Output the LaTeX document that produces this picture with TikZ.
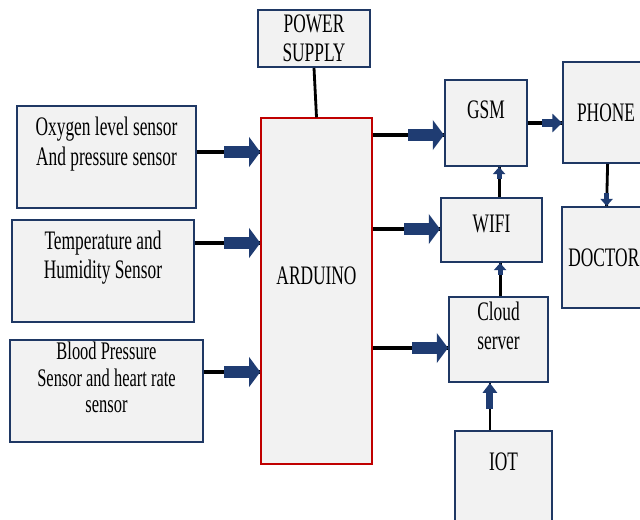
\documentclass[tikz,border=0pt]{standalone}
\usepackage{fontspec}
\setmainfont[FakeStretch=0.65]{Liberation Serif}
\usetikzlibrary{arrows.meta, positioning, calc}

\definecolor{boxblue}{RGB}{31,56,100}
\definecolor{boxgray}{RGB}{242,242,242}
\definecolor{ardred}{RGB}{192,0,0}
\definecolor{arrowblue}{RGB}{31,60,114}

\begin{document}
\begin{tikzpicture}[
    box/.style={draw=boxblue, line width=1.4pt, fill=boxgray},
    txt/.style={font=\fontsize{19}{21}\selectfont, align=center, inner sep=0pt},
    wire/.style={line width=2.7pt},
    thinwire/.style={line width=2pt},
    bigarrow/.style={arrowblue, line width=9pt, -{Triangle[width=21pt, length=8pt]}},
    midarrow/.style={arrowblue, line width=5pt, -{Triangle[width=10pt, length=7pt]}},
    smallarrow/.style={arrowblue, line width=3.5pt, -{Triangle[width=8.5pt, length=5pt]}},
]
\useasboundingbox (0,0) rectangle (16,12.975);
\clip (0,0) rectangle (16,12.975);

% ===================== SENSORS =====================
\node[box, minimum width=4.475cm, minimum height=2.55cm] (oxy) at (2.6625, 9.05) {};
\node[txt] at ($(oxy.center)+(0,0.325)$) {Oxygen level sensor\\And pressure sensor};

\node[box, minimum width=4.55cm, minimum height=2.55cm] (temp) at (2.575, 6.2) {};
\node[txt] at ($(temp.center)+(0,0.34)$) {Temperature and\\Humidity Sensor};

\node[box, minimum width=4.825cm, minimum height=2.55cm] (bp) at (2.6625, 3.2) {};
\node[txt, font=\fontsize{18}{19}\selectfont] at ($(bp.center)+(0,0.34)$)
    {Blood Pressure\\Sensor and heart rate\\sensor};

% ===================== ARDUINO + POWER =====================
\node[box, minimum width=2.8cm, minimum height=1.425cm] (power) at (7.85, 12.0125) {};
\node[txt] at (power.center) {POWER\\SUPPLY};

\node[box, draw=ardred, line width=1pt, minimum width=2.775cm, minimum height=8.65cm]
    (ardu) at (7.9125, 5.7) {};
\node[txt] at ($(ardu.center)+(0,0.375)$) {ARDUINO};

\draw[thinwire] (power.south) -- (ardu.north);

% ===================== COMMUNICATION =====================
\node[box, minimum width=2.05cm, minimum height=2.15cm] (gsm) at (12.15, 9.9) {};
\node[txt] at ($(gsm.center)+(0,0.325)$) {GSM};

\node[box, minimum width=2.525cm, minimum height=1.6cm] (wifi) at (12.2875, 7.225) {};
\node[txt] at ($(wifi.center)+(0,0.15)$) {WIFI};

\node[box, minimum width=2.475cm, minimum height=2.125cm] (cloud) at (12.4625, 4.4875) {};
\node[txt] at ($(cloud.center)+(0,0.34)$) {Cloud\\server};

\node[box, minimum width=2.425cm, minimum height=2.75cm] (iot) at (12.5875, 0.825) {};
\node[txt] at ($(iot.north)+(0,-0.8)$) {IOT};

\node[box, minimum width=2.225cm, minimum height=2.525cm] (phone) at (15.19, 10.1625) {};
\node[txt] at ($(phone.center)+(-0.04,0)$) {PHONE};

\node[box, minimum width=2.225cm, minimum height=2.525cm] (doctor) at (15.165, 6.5375) {};
\node[txt] at ($(doctor.center)+(-0.07,0)$) {DOCTOR};

% ===================== SENSOR ARROWS =====================
\foreach \src/\dy in {oxy/0.125, temp/0.7, bp/0.475} {
    \draw[wire] ($(\src.east)+(0,\dy)$) coordinate (s) -- (s -| ardu.west) coordinate (t);
    \draw[bigarrow] ($(t)+(-0.9,0)$) -- (t);
}

% ===================== ARDUINO OUTPUTS =====================
\foreach \dst/\dy in {gsm/-0.3, wifi/0.025, cloud/-0.2125} {
    \draw[wire] ($(\dst.west)+(0,\dy)$) coordinate (t) -- (t -| ardu.east);
    \draw[bigarrow] ($(t)+(-0.9,0)$) -- (t);
}

% GSM -> PHONE
\draw[wire] (gsm.east) -- (gsm.east -| phone.west) coordinate (t);
\draw[midarrow, line width=6pt, -{Triangle[width=13pt, length=7pt]}] ($(t)+(-0.5,0)$) -- (t);

% PHONE -> DOCTOR
\draw[thinwire] (phone.south) -- (doctor.north);
\draw[smallarrow] ($(doctor.north)+(0,0.32)$) -- (doctor.north);

% WIFI -> GSM
\draw[thinwire] ($(wifi.north)+(0.19,0)$) coordinate (s) -- (s |- gsm.south) coordinate (t);
\draw[smallarrow] ($(t)+(0,-0.3)$) -- (t);

% CLOUD -> WIFI
\draw[thinwire] ($(cloud.north)+(0.04,0)$) coordinate (s) -- (s |- wifi.south) coordinate (t);
\draw[smallarrow] ($(t)+(0,-0.3)$) -- (t);

% IOT -> CLOUD
\draw[thinwire] ($(iot.north)+(-0.34,0)$) coordinate (s) -- (s |- cloud.south) coordinate (t);
\draw[midarrow] ($(t)+(0,-0.65)$) -- (t);

\end{tikzpicture}
\end{document}
